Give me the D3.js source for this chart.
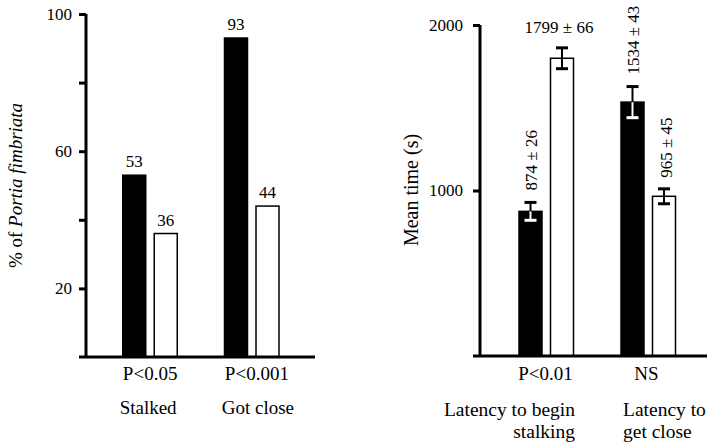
<!DOCTYPE html>
<html>
<head>
  <meta charset="utf-8">
  <title>Portia fimbriata</title>
  <script src="https://cdn.jsdelivr.net/npm/d3@7"></script>
  <style type="text/css">
    body { margin: 0; background: #fff; }
    .tick line { stroke: #000; stroke-width: 3; }
  </style>
</head>
<body>
<div id="chart"></div>
<script type="text/javascript">
  // left panel: % of spiders
  const pctCats = ['Stalked', 'Got close'];
  const pctStats = ['P<0.05', 'P<0.001'];
  const pctBlack = [53, 93];
  const pctWhite = [36, 44];
  const pctTicks = [20, 40, 60, 80, 100];
  const pctLabelled = [20, 60, 100];

  // right panel: mean latency (s)
  const timeCats = ['stalk', 'close'];
  const timeCatLines = [['Latency to begin', 'stalking'], ['Latency to', 'get close']];
  const timeStats = ['P<0.01', 'NS'];
  const timeBlack = [874, 1534];
  const timeWhite = [1799, 965];
  const timeBlackErr = [54, 94];   // as drawn
  const timeWhiteErr = [63, 45];
  const timeBlackLbl = ['874 \u00b1 26', '1534 \u00b1 43'];
  const timeWhiteLbl = ['1799 \u00b1 66', '965 \u00b1 45'];
  const timeTicks = [1000, 2000];

  const FONT = 'Liberation Serif';
  const W = 707, H = 443;
  const svg = d3.select('#chart').append('svg').attr('width', W).attr('height', H);

  const sub = d3.scaleBand().domain(['b', 'w']).range([23.5, 78]).paddingInner(0.27).paddingOuter(0);

  // ---------- left panel ----------
  const xL = d3.scaleBand().domain(pctCats).range([99.25, 302.75]);
  const yL = d3.scaleLinear().domain([0, 100]).range([357, 14]);
  const gL = svg.append('g');

  gL.append('g')
    .attr('transform', 'translate(86,0)')
    .call(d3.axisLeft(yL).tickValues(pctTicks).tickSize(7).tickSizeOuter(0).tickPadding(7)
      .tickFormat(d => pctLabelled.includes(d) ? d : ''))
    .call(g => g.attr('font-size', 17))
    .call(g => g.select('.domain').remove());
  gL.append('line').attr('x1', 86).attr('x2', 86).attr('y1', yL(100)).attr('y2', yL(0))
    .attr('stroke', '#000').attr('stroke-width', 3);

  pctCats.forEach((c, i) => {
    const x0 = xL(c);
    [['b', pctBlack[i]], ['w', pctWhite[i]]].forEach(([k, v]) => {
      gL.append('rect')
        .attr('x', x0 + sub(k)).attr('width', sub.bandwidth())
        .attr('y', yL(v)).attr('height', yL(0) - yL(v))
        .attr('fill', k === 'b' ? '#000' : '#fff')
        .attr('stroke', '#000').attr('stroke-width', 1.5);
      gL.append('text')
        .attr('x', x0 + sub(k) + sub.bandwidth() / 2).attr('y', yL(v) - 8)
        .attr('text-anchor', 'middle').attr('font-size', 17).text(v);
    });
    const cx = x0 + xL.bandwidth() / 2 + (i === 1 ? 5 : 0);
    gL.append('text').attr('x', cx).attr('y', 380).attr('text-anchor', 'middle')
      .attr('font-size', 19).text(pctStats[i]);
    gL.append('text').attr('x', cx - 2 + (i === 1 ? 3 : 0)).attr('y', 414).attr('text-anchor', 'middle')
      .attr('font-size', 19).text(c);
  });
  gL.append('line').attr('x1', 79).attr('x2', 315).attr('y1', yL(0)).attr('y2', yL(0))
    .attr('stroke', '#000').attr('stroke-width', 3);

  const yLab = gL.append('text')
    .attr('transform', `translate(22,${(yL(100) + yL(0)) / 2}) rotate(-90)`)
    .attr('text-anchor', 'middle').attr('font-size', 19);
  yLab.append('tspan').text('% of ');
  yLab.append('tspan').attr('font-style', 'italic').style('font-style', 'italic').text('Portia fimbriata');

  // ---------- right panel ----------
  const xR = d3.scaleBand().domain(timeCats).range([495.5, 699.5]);
  const yR = d3.scaleLinear().domain([0, 2000]).range([356, 25]);
  const gR = svg.append('g');

  gR.append('g')
    .attr('transform', 'translate(480,0)')
    .call(d3.axisLeft(yR).tickValues(timeTicks).tickSize(7).tickSizeOuter(0).tickPadding(10)
      .tickFormat(d3.format('d')))
    .call(g => g.attr('font-size', 17))
    .call(g => g.select('.domain').remove());
  gR.append('line').attr('x1', 480).attr('x2', 480).attr('y1', yR(2000)).attr('y2', yR(0))
    .attr('stroke', '#000').attr('stroke-width', 3);

  const errBar = (cx, v, e, inside) => {
    const top = yR(v + e), bot = yR(v - e), mid = yR(v);
    const hw = 6;
    gR.append('line').attr('x1', cx).attr('x2', cx).attr('y1', top).attr('y2', mid)
      .attr('stroke', '#000').attr('stroke-width', 2);
    gR.append('line').attr('x1', cx - hw).attr('x2', cx + hw).attr('y1', top).attr('y2', top)
      .attr('stroke', '#000').attr('stroke-width', 3);
    const c = inside ? '#fff' : '#000';
    gR.append('line').attr('x1', cx).attr('x2', cx).attr('y1', mid).attr('y2', bot)
      .attr('stroke', c).attr('stroke-width', 2);
    gR.append('line').attr('x1', cx - hw).attr('x2', cx + hw).attr('y1', bot).attr('y2', bot)
      .attr('stroke', c).attr('stroke-width', 3);
  };

  timeCats.forEach((c, i) => {
    const x0 = xR(c);
    const bw = sub.bandwidth();
    const series = [['b', timeBlack[i], timeBlackErr[i]], ['w', timeWhite[i], timeWhiteErr[i]]];
    series.forEach(([k, v, e]) => {
      const cx = x0 + sub(k) + bw / 2;
      gR.append('rect')
        .attr('x', x0 + sub(k)).attr('width', bw)
        .attr('y', yR(v)).attr('height', yR(0) - yR(v))
        .attr('fill', k === 'b' ? '#000' : '#fff')
        .attr('stroke', '#000').attr('stroke-width', 1.5);
      errBar(cx, v, e, k === 'b');
    });
    // value labels
    const bcx = x0 + sub('b') + bw / 2;
    const wcx = x0 + sub('w') + bw / 2;
    gR.append('text')
      .attr('transform', `translate(${bcx + 7},${yR(timeBlack[i] + timeBlackErr[i]) - 12}) rotate(-90)`)
      .attr('font-size', 17).text(timeBlackLbl[i]);
    if (i === 0) {
      gR.append('text').attr('x', wcx - 3).attr('y', yR(timeWhite[i] + timeWhiteErr[i]) - 15)
        .attr('text-anchor', 'middle').attr('font-size', 17).text(timeWhiteLbl[i]);
    } else {
      gR.append('text')
        .attr('transform', `translate(${wcx + 8},${yR(timeWhite[i] + timeWhiteErr[i]) - 11}) rotate(-90)`)
        .attr('font-size', 17).text(timeWhiteLbl[i]);
    }
    const gc = x0 + xR.bandwidth() / 2;
    gR.append('text').attr('x', gc - (i === 1 ? 2 : 1)).attr('y', 380).attr('text-anchor', 'middle')
      .attr('font-size', 19).text(timeStats[i]);
    const t = gR.append('text')
      .attr('text-anchor', i === 0 ? 'end' : 'start')
      .attr('x', i === 0 ? 575 : 623).attr('y', 416).attr('font-size', 19.5);
    timeCatLines[i].forEach((ln, j) => {
      t.append('tspan').attr('x', i === 0 ? 575 : 623).attr('dy', j === 0 ? 0 : 22).text(ln);
    });
  });
  gR.append('line').attr('x1', 473).attr('x2', 707).attr('y1', yR(0)).attr('y2', yR(0))
    .attr('stroke', '#000').attr('stroke-width', 3);

  gR.append('text')
    .attr('transform', `translate(418,190) rotate(-90)`)
    .attr('text-anchor', 'middle').attr('font-size', 20).text('Mean time (s)');

  svg.selectAll('g').attr('font-family', FONT);
  svg.selectAll('text')
    .attr('font-family', FONT)
    .style('font-family', FONT)
    .style('fill', '#000');
</script>
</body>
</html>
